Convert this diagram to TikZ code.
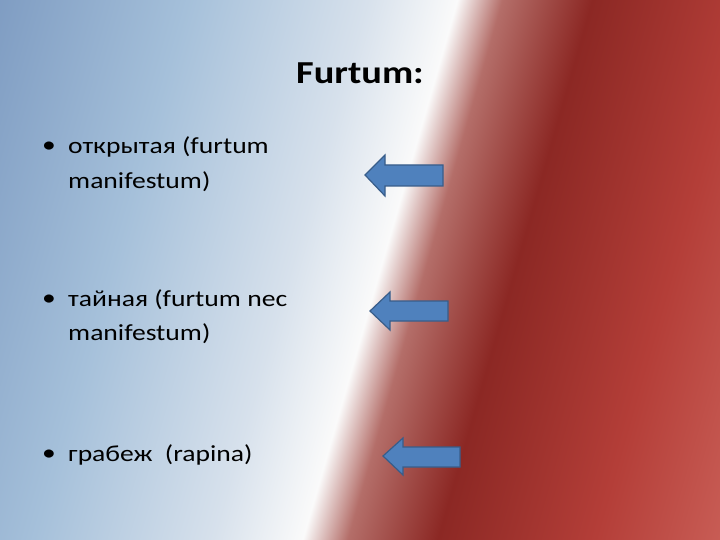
\documentclass[tikz,border=0pt]{standalone}
\usepackage{fontspec}
\setmainfont{Carlito}[FakeStretch=1.2]
\definecolor{bgA}{RGB}{120,150,190}
\definecolor{bgB}{RGB}{165,192,218}
\definecolor{bgC}{RGB}{215,225,236}
\definecolor{bgW}{RGB}{250,250,250}
\definecolor{bgD}{RGB}{180,110,105}
\definecolor{bgE}{RGB}{140,40,36}
\definecolor{bgF}{RGB}{180,62,56}
\definecolor{bgG}{RGB}{205,100,92}
\definecolor{bgH}{RGB}{230,190,185}
\definecolor{arrfill}{RGB}{79,129,189}
\definecolor{arrline}{RGB}{56,93,138}
\pgfdeclarehorizontalshading{bgshade}{100bp}{
 color(0bp)=(bgA); color(28bp)=(bgA); color(38bp)=(bgB); color(46bp)=(bgC); color(50bp)=(bgW);
 color(52bp)=(bgD); color(56bp)=(bgE); color(63bp)=(bgF); color(70bp)=(bgG); color(76bp)=(bgH); color(100bp)=(bgH)}
\begin{document}
\begin{tikzpicture}[x=1pt,y=-1pt,
 txt/.style={anchor=west,font=\fontsize{23}{26}\selectfont,text=black,inner sep=0},
 blk/.style={fill=arrfill,draw=arrline,line width=1.2pt,line join=miter}]
\useasboundingbox (0,0) rectangle (720,540);
\begin{scope}
\clip (0,0) rectangle (720,540);
\shade[shading=bgshade,shading angle=-16] (-180,-200) rectangle (940,740);
\end{scope}
\node[anchor=center,font=\fontsize{32}{36}\selectfont\bfseries,inner sep=0] (title) at (360,73) {Furtum:};
\node[txt] (b1) at (42,147) {•};
\node[txt] (t1a) at (68,147) {открытая (furtum};
\node[txt] (t1b) at (68,182) {manifestum)};
\node[txt] (b2) at (42,300) {•};
\node[txt] (t2a) at (68,300) {тайная (furtum nec};
\node[txt] (t2b) at (68,334) {manifestum)};
\node[txt] (b3) at (42,455) {•};
\node[txt] (t3a) at (68,455) {грабеж\ \ (rapina)};
\draw[blk] (365,175) -- (385,155) -- (385,165) -- (443,165) -- (443,186) -- (385,186) -- (385,196) -- cycle;
\draw[blk] (370,311) -- (390,292) -- (390,301) -- (448,301) -- (448,321) -- (390,321) -- (390,330) -- cycle;
\draw[blk] (383,456) -- (403,438) -- (403,447) -- (460,447) -- (460,467) -- (403,467) -- (403,475) -- cycle;
\end{tikzpicture}
\end{document}
